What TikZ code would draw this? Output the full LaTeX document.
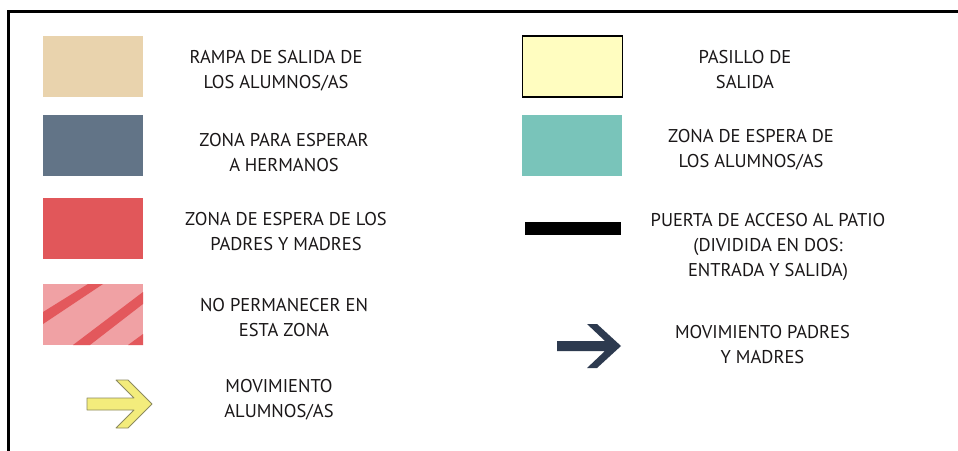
\documentclass[tikz,border=0pt]{standalone}
\usepackage{fontspec}
\setmainfont{PT Sans}
\definecolor{beige}{HTML}{E9D3AD}
\definecolor{slate}{HTML}{627487}
\definecolor{zred}{HTML}{E1575A}
\definecolor{zpink}{HTML}{F0A1A4}
\definecolor{zstripe}{HTML}{E3585C}
\definecolor{paleyellow}{HTML}{FFFDC0}
\definecolor{teal2}{HTML}{79C4BA}
\definecolor{txt}{HTML}{1A1718}
\definecolor{arrowyellow}{HTML}{F3EC7C}
\definecolor{arrowedge}{HTML}{8C8A5E}
\definecolor{darkarrow}{HTML}{2D3A4F}
\begin{document}
\begin{tikzpicture}[x=1pt,y=-1pt,
  lbl/.style={align=center,font=\fontsize{18.5}{25}\selectfont,text=txt,inner sep=0pt},
  swatch/.style={minimum width=100pt,minimum height=61pt,inner sep=0pt,outer sep=0pt}]
\useasboundingbox (0,0) rectangle (958,450);
\fill[white] (0,0) rectangle (958,450);
\draw[line width=3pt] (8,452) -- (8,11) -- (960,11);

% left column
\node[swatch,fill=beige] (s1) at (93,66.5) {};
\node[lbl] (t1) at (276,70.5) {RAMPA DE SALIDA DE\\LOS ALUMNOS/AS};

\node[swatch,fill=slate] (s2) at (93,145.5) {};
\node[lbl] (t2) at (284,152.5) {ZONA PARA ESPERAR\\A HERMANOS};

\node[swatch,fill=zred] (s3) at (93,228.5) {};
\node[lbl] (t3) at (286,231.5) {ZONA DE ESPERA DE LOS\\PADRES Y MADRES};

\node[swatch,fill=zpink] (s4) at (93,314.5) {};
\fill[zstripe] (43,312) -- (88,284) -- (103,284) -- (43,324) -- cycle;
\fill[zstripe] (73,345) -- (143,292) -- (143,304) -- (90,345) -- cycle;
\fill[zstripe] (128,345) -- (143,334) -- (143,345) -- cycle;
\node[lbl] (t4) at (284,318) {NO PERMANECER EN\\ESTA ZONA};

\draw[fill=arrowyellow,draw=arrowedge,line width=0.8pt,line join=round]
  (87,398) -- (134,398) -- (116,380) -- (128,380) -- (152,404)
  -- (128,428) -- (116,428) -- (134,410) -- (87,410) -- cycle;
\node[lbl] (t5) at (279,399.5) {MOVIMIENTO\\ALUMNOS/AS};

% right column
\node[swatch,fill=paleyellow,draw=black,line width=1.4pt] (r1) at (572.5,66.5) {};
\node[lbl] (u1) at (745,69.5) {PASILLO DE\\SALIDA};

\node[swatch,fill=teal2] (r2) at (572,145.5) {};
\node[lbl] (u2) at (751,150) {ZONA DE ESPERA DE\\LOS ALUMNOS/AS};

\node[fill=black,minimum width=96pt,minimum height=13pt,inner sep=0pt] (r3) at (573,228.5) {};
\node[lbl] (u3) at (768,247) {PUERTA DE ACCESO AL PATIO\\(DIVIDIDA EN DOS:\\ENTRADA Y SALIDA)};

\fill[darkarrow]
  (557,341) -- (605,341) -- (587,324) -- (597,324) -- (621,346)
  -- (597,368) -- (587,368) -- (605,351) -- (557,351) -- cycle;
\node[lbl] (u4) at (762.5,345) {MOVIMIENTO PADRES\\Y MADRES};
\end{tikzpicture}
\end{document}
